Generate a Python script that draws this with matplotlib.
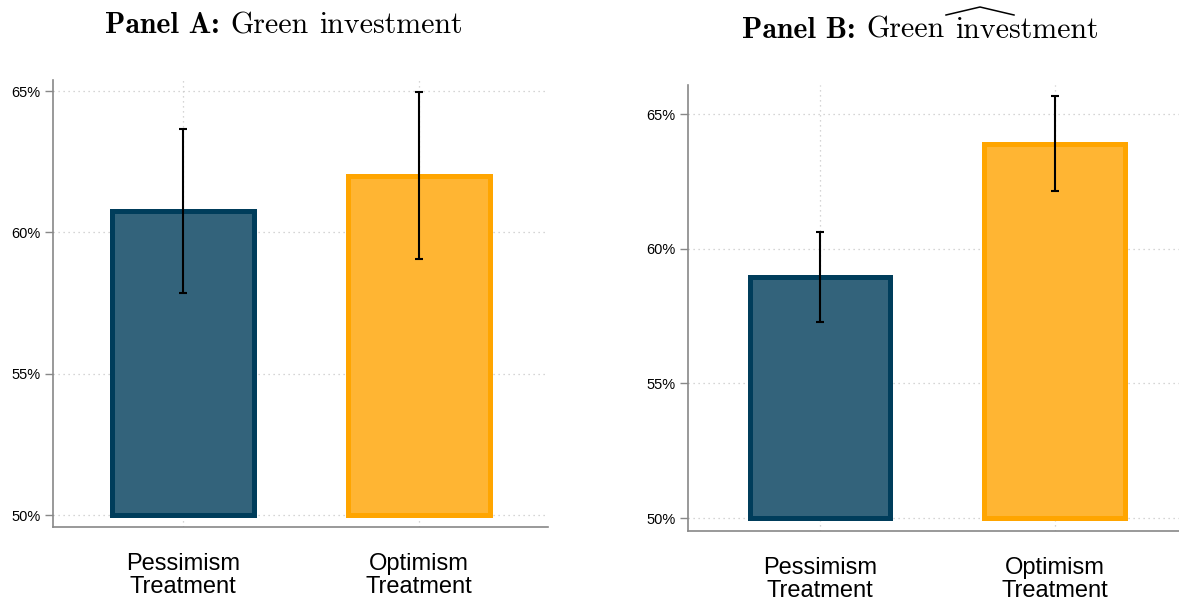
import matplotlib
matplotlib.use("Agg")
import matplotlib.pyplot as plt
from matplotlib.lines import Line2D

plt.rcParams['font.family'] = ['Liberation Sans', 'DejaVu Sans']
plt.rcParams['axes.unicode_minus'] = False

# Data
categories = ["Pessimism\nTreatment", "Optimism\nTreatment"]
panel_a_means = [60.75, 62.0]
panel_a_ci = [2.9, 2.95]
panel_b_means = [58.95, 63.9]
panel_b_ci = [1.67, 1.76]
ytick_vals = [50, 55, 60, 65]
ytick_labels = ["50%", "55%", "60%", "65%"]

edge_colors = ["#003d5b", "#ffa500"]
fill_colors = ["#33637b", "#ffb533"]

W, H = 1179, 603
fig = plt.figure(figsize=(W / 100, H / 100), dpi=100)

panels = [
    dict(rect=[53 / W, 76 / H, 495 / W, 447 / H],
         means=panel_a_means, ci=panel_a_ci, ylim=(49.58, 65.39),
         xlim=(0.449, 2.547),
         label="Panel A:", name="Green", word="investment", hat=False,
         title_left=105, baseline=33),
    dict(rect=[688 / W, 72 / H, 496 / W, 446 / H],
         means=panel_b_means, ci=panel_b_ci, ylim=(49.52, 66.08),
         xlim=(0.438, 2.55),
         label="Panel B:", name="Green", word="investment", hat=True,
         title_left=742, baseline=38),
]

x = [1, 2]
for p in panels:
    ax = fig.add_axes(p["rect"])
    ax.set_xlim(*p["xlim"])
    ax.set_ylim(*p["ylim"])
    base = 50
    heights = [m - base for m in p["means"]]
    ax.bar(x, heights, bottom=base, width=0.6, color=fill_colors,
           edgecolor=edge_colors, linewidth=3.6, zorder=2)
    ax.errorbar(x, p["means"], yerr=p["ci"], fmt="none", ecolor="black",
                elinewidth=1.5, capsize=2.8, capthick=1.5, zorder=3)

    ax.set_yticks(ytick_vals)
    ax.set_yticklabels(ytick_labels, fontsize=10.5)
    ax.set_xticks(x)
    ax.set_xticklabels(categories, fontsize=17, linespacing=1.05)
    ax.tick_params(axis="x", length=0, pad=19)
    ax.tick_params(axis="y", length=6, width=1, color="#888888", pad=3)

    ax.grid(True, axis="both", color="#c8c8c8", linestyle=(0, (1, 3)),
            linewidth=0.9, zorder=0)
    ax.set_axisbelow(True)

    for side in ["top", "right"]:
        ax.spines[side].set_visible(False)
    for side in ["left", "bottom"]:
        ax.spines[side].set_color("#888888")
        ax.spines[side].set_linewidth(1.2)

# Titles: bold label followed by the roman panel name, set piece by piece
fig.canvas.draw()
renderer = fig.canvas.get_renderer()
title_size = 21.5
for p in panels:
    y = 1 - p["baseline"] / H
    t1 = fig.text(p["title_left"] / W, y, p["label"], family="cmb10",
                  fontsize=title_size, ha="left", va="baseline")
    e1 = t1.get_window_extent(renderer)
    space = title_size * 0.36 * 100 / 72
    t2 = fig.text((e1.x1 + space) / W, y, p["name"], family="cmr10",
                  fontsize=title_size, ha="left", va="baseline")
    e2 = t2.get_window_extent(renderer)
    t3 = fig.text((e2.x1 + space) / W, y, p["word"], family="cmr10",
                  fontsize=title_size, ha="left", va="baseline")
    e3 = t3.get_window_extent(renderer)
    if p["hat"]:
        x0 = e3.x0 - 9
        x1 = x0 + 68
        xm = (x0 + x1) / 2
        y_lo = H - 15
        y_hi = H - 7
        fig.add_artist(Line2D([x0 / W, xm / W, x1 / W],
                              [y_lo / H, y_hi / H, y_lo / H],
                              transform=fig.transFigure, color="black",
                              linewidth=1.1))

fig.savefig("out.png", dpi=100)
